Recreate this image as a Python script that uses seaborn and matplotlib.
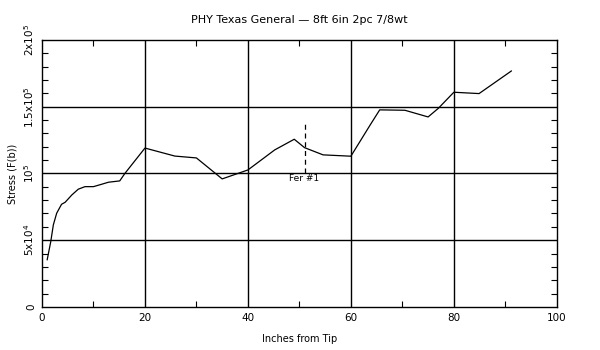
import matplotlib
matplotlib.use("Agg")
import matplotlib.pyplot as plt
import seaborn as sns
import pandas as pd
from matplotlib.ticker import MultipleLocator

inches = [1.0, 1.7, 2.2, 2.85, 3.8, 4.5, 5.8, 7.05, 8.35, 10.0, 11.6, 12.9, 15.1, 16.1,
          20.0, 25.8, 30.0, 35.0, 40.0, 45.2, 49.0, 51.0, 54.6, 60.0, 63.7, 65.6,
          70.5, 75.0, 77.0, 80.0, 84.9, 91.2]
stress = [35200, 48900, 61400, 70200, 76900, 78400, 83900, 88200, 90100, 90100, 91900,
          93400, 94400, 100000, 119000, 113000, 111600, 95900, 102600, 117600, 125600,
          119300, 113900, 112900, 136000, 147600, 147300, 142300, 148800, 160800,
          159800, 176800]

marker_x = 51.0
marker_y = [100000, 139500]
marker_label = "Fer #1"

title = "PHY Texas General \u2014 8ft 6in 2pc 7/8wt"
xlabel = "Inches from Tip"
ylabel = "Stress (F(b))"
ytick_vals = [0, 50000, 100000, 150000, 200000]
ytick_labels = ["0", r"5x10$^4$", r"10$^5$", r"1.5x10$^5$", r"2x10$^5$"]
xtick_vals = [0, 20, 40, 60, 80, 100]

sns.set_style("white")
plt.rcParams['font.family'] = ['DejaVu Sans']
plt.rcParams['mathtext.fontset'] = 'dejavusans'
plt.rcParams['text.color'] = 'black'
plt.rcParams['axes.labelcolor'] = 'black'
plt.rcParams['xtick.color'] = 'black'
plt.rcParams['ytick.color'] = 'black'

df = pd.DataFrame({"x": inches, "y": stress})
fig = plt.figure(figsize=(6, 3.5), dpi=100)
ax = fig.add_axes([0.07, 0.123, 0.858, 0.763])

for gx in [20, 40, 60, 80]:
    ax.axvline(gx, color="black", lw=1.0, zorder=1)
for gy in [50000, 100000, 150000]:
    ax.axhline(gy, color="black", lw=1.0, zorder=1)

sns.lineplot(data=df, x="x", y="y", ax=ax, color="black", lw=0.9, zorder=3)
ax.plot([marker_x, marker_x], marker_y, color="black", lw=0.9, ls=(0, (4, 3)), zorder=3)
ax.text(marker_x, 96500, marker_label, ha="center", va="center", fontsize=6.5,
        color="black", zorder=4)

ax.set_xlim(0, 100)
ax.set_ylim(0, 200000)
ax.set_xticks(xtick_vals)
ax.set_yticks(ytick_vals)
ax.set_yticklabels(ytick_labels, rotation=90, va="center")
ax.xaxis.set_minor_locator(MultipleLocator(10))
ax.yaxis.set_minor_locator(MultipleLocator(10000))
ax.tick_params(which="both", direction="in", top=True, right=True, bottom=True,
               left=True, colors="black", labelsize=7.5)
ax.tick_params(which="major", length=0, pad=4)
ax.tick_params(which="minor", length=4, width=0.8)
for s in ax.spines.values():
    s.set_color("black")
    s.set_linewidth(1.0)

ax.set_title(title, fontsize=8, pad=12, color="black")
ax.set_xlabel(xlabel, fontsize=7, labelpad=8)
ax.set_ylabel(ylabel, fontsize=7, labelpad=4)

fig.savefig("out.png", dpi=100, facecolor="white")
